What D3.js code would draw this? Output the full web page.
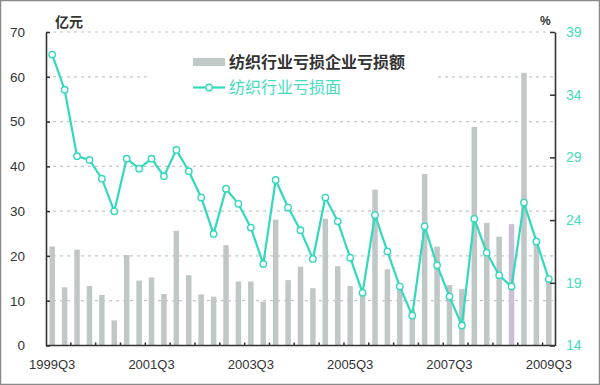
<!DOCTYPE html>
<html>
<head>
<meta charset="utf-8">
<script src="https://cdn.jsdelivr.net/npm/d3@7"></script>
<style>
  html, body { margin: 0; padding: 0; background: #fff; }
  svg { display: block; }
  text { font-family: "Liberation Sans", Arial, sans-serif; }
  .cjk { font-family: "Noto Sans CJK SC", sans-serif; }
</style>
</head>
<body>
<svg id="chart" width="600" height="385"></svg>
<script>
const categories = [
  "1999Q3","1999Q4","2000Q1","2000Q2","2000Q3","2000Q4","2001Q1","2001Q2","2001Q3","2001Q4",
  "2002Q1","2002Q2","2002Q3","2002Q4","2003Q1","2003Q2","2003Q3","2003Q4","2004Q1","2004Q2",
  "2004Q3","2004Q4","2005Q1","2005Q2","2005Q3","2005Q4","2006Q1","2006Q2","2006Q3","2006Q4",
  "2007Q1","2007Q2","2007Q3","2007Q4","2008Q1","2008Q2","2008Q3","2008Q4","2009Q1","2009Q2",
  "2009Q3"
];
// 纺织行业亏损企业亏损额 (亿元)
const lossAmount = [
  22.1, 13.0, 21.4, 13.3, 11.3, 5.6, 20.2, 14.5, 15.2, 11.5,
  25.6, 15.7, 11.4, 10.9, 22.4, 14.3, 14.3, 9.8, 28.1, 14.6,
  17.6, 12.8, 28.3, 17.7, 13.3, 12.0, 34.8, 17.0, 12.5, 8.0,
  38.3, 22.1, 13.5, 12.6, 48.8, 27.4, 24.3, 27.1, 60.9, 23.0,
  15.1
];
// 纺织行业亏损面 (%)
const lossRatio = [
  37.2, 34.4, 29.1, 28.8, 27.3, 24.7, 28.9, 28.1, 28.9, 27.5,
  29.6, 27.9, 25.8, 22.9, 26.5, 25.3, 23.4, 20.5, 27.2, 25.0,
  23.2, 20.9, 25.8, 23.9, 21.0, 18.2, 24.4, 21.5, 18.7, 16.4,
  23.5, 20.4, 17.9, 15.6, 24.1, 21.4, 19.6, 18.7, 25.4, 22.3,
  19.3
];
const xTickLabels = ["1999Q3","2001Q3","2003Q3","2005Q3","2007Q3","2009Q3"];
const leftTicks = [0, 10, 20, 30, 40, 50, 60, 70];
const rightTicks = [14, 19, 24, 29, 34, 39];
const seriesNames = ["纺织行业亏损企业亏损额", "纺织行业亏损面"];
const highlighted = ["2008Q4"];

const svg = d3.select("#chart");
const L = 46, R = 555, T = 32, B = 345.5;
const barColor = "#bfc8c7", lineColor = "#33d9bc", axisColor = "#333";

// frame
svg.append("rect").attr("x", 0.5).attr("y", 0.5).attr("width", 599).attr("height", 384)
  .attr("fill", "#fff").attr("stroke", "#8a8a8a").attr("stroke-width", 1.5);

const x = d3.scaleBand().domain(categories).range([L, R]).padding(0);
const yL = d3.scaleLinear().domain([0, 70]).range([B, T]);
const yR = d3.scaleLinear().domain([14, 39]).range([B, T]);

// grid
svg.append("g").selectAll("line").data(leftTicks.filter(d => d > 0)).join("line")
  .attr("x1", L).attr("x2", R).attr("y1", d => yL(d)).attr("y2", d => yL(d))
  .attr("stroke", "#c6c6c6").attr("stroke-width", 1.2).attr("stroke-dasharray", "3,4");

// bars
const bw = 5.5;
svg.append("g").selectAll("rect").data(lossAmount).join("rect")
  .attr("x", (d, i) => x(categories[i]) + x.bandwidth() / 2 - bw / 2)
  .attr("width", bw)
  .attr("y", d => yL(d))
  .attr("height", d => B - yL(d))
  .attr("fill", (d, i) => highlighted.includes(categories[i]) ? "#cbbfd6" : barColor);

// line
const line = d3.line()
  .x((d, i) => x(categories[i]) + x.bandwidth() / 2)
  .y(d => yR(d));
svg.append("path").datum(lossRatio).attr("d", line)
  .attr("fill", "none").attr("stroke", lineColor).attr("stroke-width", 2.2);
svg.append("g").selectAll("circle").data(lossRatio).join("circle")
  .attr("cx", (d, i) => x(categories[i]) + x.bandwidth() / 2)
  .attr("cy", d => yR(d)).attr("r", 3.2)
  .attr("fill", "#fff").attr("stroke", lineColor).attr("stroke-width", 1.4);

// left axis
const gL = svg.append("g").attr("transform", `translate(${L},0)`)
  .call(d3.axisLeft(yL).tickValues(leftTicks).tickSizeInner(-4).tickSizeOuter(0).tickPadding(21));
gL.select(".domain").attr("stroke", axisColor).attr("stroke-width", 1.6);
gL.selectAll(".tick line").attr("stroke", axisColor).attr("stroke-width", 1.5);
gL.selectAll(".tick text").attr("fill", "#333").attr("font-size", 13.5).attr("font-family", "Liberation Sans, Arial, sans-serif");

// right axis
const gR = svg.append("g").attr("transform", `translate(${R},0)`)
  .call(d3.axisRight(yR).tickValues(rightTicks).tickSizeInner(-5).tickSizeOuter(0).tickPadding(11));
gR.select(".domain").attr("stroke", axisColor).attr("stroke-width", 1.6);
gR.selectAll(".tick line").attr("stroke", axisColor).attr("stroke-width", 1.5);
gR.selectAll(".tick text").attr("fill", "#45dcc0").attr("font-size", 14).attr("font-family", "Liberation Sans, Arial, sans-serif");

// bottom axis
svg.append("line").attr("x1", L).attr("x2", R).attr("y1", B).attr("y2", B)
  .attr("stroke", axisColor).attr("stroke-width", 1.6);
svg.append("g").selectAll("line").data(categories.filter((c, i) => i > 0 && i % 2 === 0)).join("line")
  .attr("x1", d => x(d)).attr("x2", d => x(d)).attr("y1", B).attr("y2", B - 3)
  .attr("stroke", axisColor).attr("stroke-width", 1.5);
svg.append("g").selectAll("text").data(xTickLabels).join("text")
  .attr("x", d => x(d) + x.bandwidth() / 2).attr("y", 369)
  .attr("text-anchor", "middle").attr("font-size", 13).attr("fill", "#333")
  .text(d => d);

// units
svg.append("text").attr("class", "cjk").attr("x", 55).attr("y", 27)
  .attr("font-size", 14).attr("font-weight", "bold").attr("fill", "#333").text("亿元");
svg.append("text").attr("x", 540).attr("y", 25)
  .attr("font-size", 12).attr("font-weight", "bold").attr("fill", "#333").text("%");

// legend
svg.append("rect").attr("x", 150).attr("y", 44).attr("width", 287).attr("height", 58).attr("fill", "#fff");
svg.append("rect").attr("x", 193).attr("y", 58).attr("width", 32).attr("height", 8).attr("fill", barColor);
svg.append("text").attr("class", "cjk").attr("x", 229).attr("y", 68)
  .attr("font-size", 16).attr("font-weight", "bold").attr("fill", "#333").text(seriesNames[0]);
svg.append("line").attr("x1", 193).attr("x2", 225).attr("y1", 87.5).attr("y2", 87.5)
  .attr("stroke", lineColor).attr("stroke-width", 2.2);
svg.append("circle").attr("cx", 209).attr("cy", 87.5).attr("r", 3.2)
  .attr("fill", "#fff").attr("stroke", lineColor).attr("stroke-width", 1.4);
svg.append("text").attr("class", "cjk").attr("x", 229).attr("y", 93)
  .attr("font-size", 16).attr("fill", "#45dcc0").text(seriesNames[1]);
</script>
</body>
</html>
